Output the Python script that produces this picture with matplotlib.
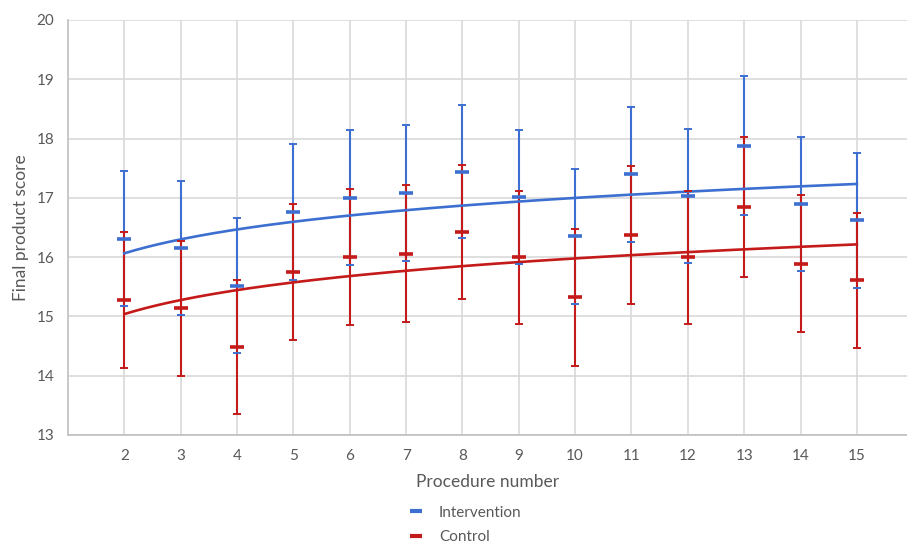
import numpy as np
import matplotlib
matplotlib.use("Agg")
import matplotlib.pyplot as plt
from matplotlib.lines import Line2D

plt.rcParams['font.family'] = ['Lato', 'DejaVu Sans']

procedures = [2, 3, 4, 5, 6, 7, 8, 9, 10, 11, 12, 13, 14, 15]
intervention_mean = [16.31, 16.16, 15.52, 16.76, 17.00, 17.08, 17.44, 17.02, 16.35, 17.40, 17.03, 17.88, 16.90, 16.62]
intervention_err = [1.14, 1.13, 1.14, 1.15, 1.14, 1.15, 1.12, 1.13, 1.14, 1.14, 1.13, 1.17, 1.13, 1.14]
control_mean = [15.28, 15.14, 14.48, 15.75, 16.00, 16.06, 16.42, 16.00, 15.32, 16.37, 16.00, 16.85, 15.89, 15.61]
control_err = [1.15, 1.14, 1.13, 1.15, 1.15, 1.16, 1.13, 1.12, 1.15, 1.16, 1.12, 1.18, 1.15, 1.14]
series_names = ["Intervention", "Control"]
y_ticks = [13, 14, 15, 16, 17, 18, 19, 20]

BLUE = '#3D6FD1'
RED = '#C41A1A'
GRID = '#D9D9D9'
TEXT = '#595959'

fig = plt.figure(figsize=(9.07, 5.44), dpi=100)
ax = fig.add_axes([68/907, 1-435/544, 1-68/907, (435-20)/544])

x = np.array(procedures, dtype=float)
series = [
    (np.array(intervention_mean), np.array(intervention_err), BLUE, 3),
    (np.array(control_mean), np.array(control_err), RED, 4),
]

for m, e, c, z in series:
    ax.vlines(x, m - e, m + e, color=c, lw=1.5, zorder=z)

# logarithmic trend lines
xs = np.linspace(2, 15, 200)
for (m, e, c, z) in series:
    b, a = np.polyfit(np.log(x), m, 1)
    ax.plot(xs, a + b * np.log(xs), color=c, lw=1.9, zorder=5)

for m, e, c, z in series:
    ax.plot(x, m + e, ls='none', marker='_', ms=6, mew=1.4, color=c, zorder=6)
    ax.plot(x, m - e, ls='none', marker='_', ms=6, mew=1.4, color=c, zorder=6)
    ax.plot(x, m, ls='none', marker='_', ms=10, mew=2.6, color=c, zorder=7)

ax.set_xlim(1, 15.89)
ax.set_ylim(13, 20)
ax.set_xticks(procedures)
ax.set_yticks(y_ticks)
ax.grid(True, color=GRID, lw=1.2, zorder=0)
ax.set_axisbelow(True)
for s in ['top', 'right']:
    ax.spines[s].set_visible(False)
for s in ['left', 'bottom']:
    ax.spines[s].set_color('#BFBFBF')
    ax.spines[s].set_linewidth(1.2)
ax.tick_params(length=0, labelsize=11, labelcolor=TEXT, pad=10)

ax.set_xlabel("Procedure number", fontsize=12.5, color=TEXT, labelpad=8)
ax.set_ylabel("Final product score", fontsize=12.5, color=TEXT, labelpad=5)

handles = [Line2D([], [], color=BLUE, lw=3, solid_capstyle='butt'),
           Line2D([], [], color=RED, lw=3, solid_capstyle='butt')]
fig.legend(handles, series_names, loc='center left', bbox_to_anchor=(396/907, 1-525/544),
           frameon=False, fontsize=11, labelcolor=TEXT, handlelength=0.8,
           handletextpad=1.1, labelspacing=0.7)

fig.savefig("out.png", dpi=100)
